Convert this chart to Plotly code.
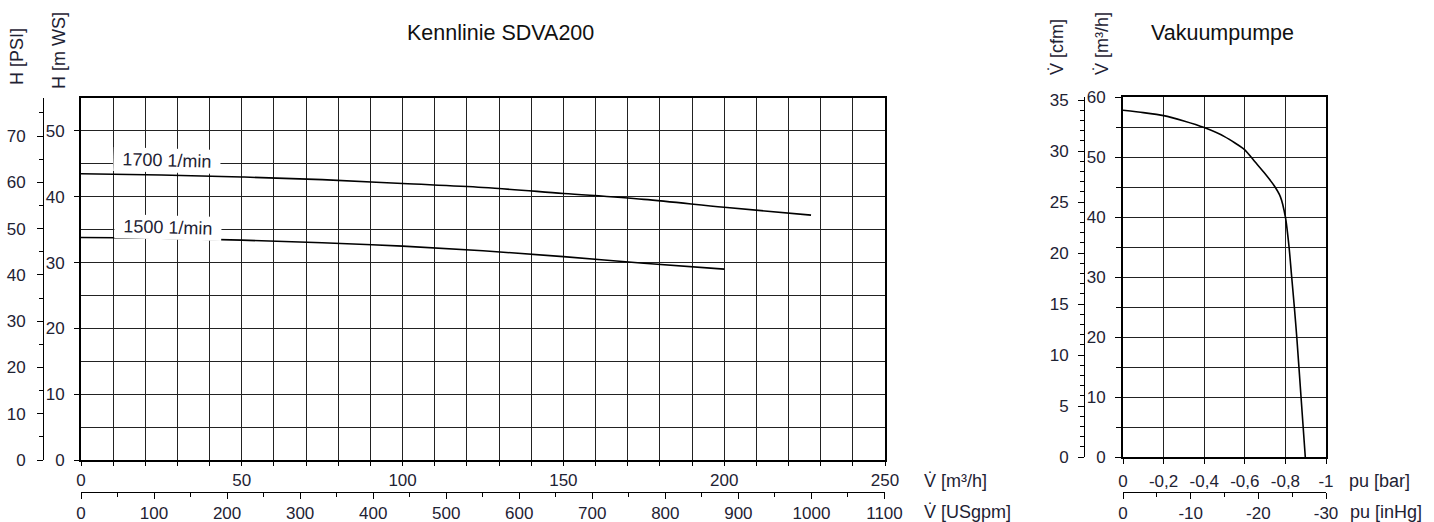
import plotly.graph_objects as go

# ---------------- data ----------------
# main pump curves: flow [m3/h] vs head [m WS]
q_1700 = [0, 25, 50, 75, 100, 125, 150, 175, 200, 227]
h_1700 = [43.5, 43.3, 43.0, 42.6, 42.0, 41.4, 40.5, 39.6, 38.4, 37.2]
q_1500 = [0, 25, 50, 75, 100, 125, 150, 175, 200]
h_1500 = [33.8, 33.7, 33.4, 33.0, 32.5, 31.8, 30.9, 29.9, 29.0]

# vacuum pump: pressure [bar] vs flow [m3/h]
p_vac = [0, -0.1, -0.2, -0.3, -0.4, -0.5, -0.6, -0.65, -0.7, -0.745, -0.775,
         -0.8, -0.818, -0.831, -0.844, -0.856, -0.877, -0.898]
v_vac = [57.8, 57.4, 56.9, 56.0, 54.9, 53.4, 51.2, 49.2, 47.2, 45.2, 43.4,
         40.0, 35.0, 30.0, 25.0, 20.0, 10.0, 0.0]

bar_ticks = [0, -0.2, -0.4, -0.6, -0.8, -1]
bar_labels = ["0", "-0,2", "-0,4", "-0,6", "-0,8", "-1"]
inhg_ticks = [0, -10, -20, -30]
inhg_labels = ["0", "-10", "-20", "-30"]

GPM = 4.402868   # US gpm per m3/h
PSI = 1.42233    # psi per m water
CFM = 0.588578   # cfm per m3/h

W, H = 1434, 522
def px(x): return x / W
def py(y): return (H - y) / H

FAM = "Liberation Sans, Arial, sans-serif"
FONT = dict(family=FAM, size=17, color="#1e2233")
LFONT = dict(family=FAM, size=18, color="#1e2233")
GRID = "#222222"

fig = go.Figure()
curve = dict(color="black", width=1.6, shape="spline", smoothing=1.0)
fig.add_trace(go.Scatter(x=q_1700, y=h_1700, mode="lines", line=curve,
                         xaxis="x", yaxis="y", hoverinfo="skip"))
fig.add_trace(go.Scatter(x=q_1500, y=h_1500, mode="lines", line=curve,
                         xaxis="x", yaxis="y", hoverinfo="skip"))
# secondary unit axes (invisible carriers)
fig.add_trace(go.Scatter(x=[q * GPM for q in q_1700], y=[h * PSI for h in h_1700],
                         mode="lines", line=dict(color="rgba(0,0,0,0)"),
                         xaxis="x2", yaxis="y2", hoverinfo="skip"))
fig.add_trace(go.Scatter(x=p_vac, y=v_vac, mode="lines",
                         line=dict(color="black", width=1.6, shape="spline", smoothing=0.6),
                         xaxis="x3", yaxis="y3", hoverinfo="skip"))
fig.add_trace(go.Scatter(x=[p * 30 for p in p_vac], y=[v * CFM for v in v_vac],
                         mode="lines", line=dict(color="rgba(0,0,0,0)"),
                         xaxis="x4", yaxis="y4", hoverinfo="skip"))

main_x = [px(81), px(885)]
main_y = [py(460), py(98)]
vac_x = [px(1123), px(1326)]
vac_y = [py(457), py(97)]

frame = dict(showline=True, linecolor="black", linewidth=2, mirror=True,
             zeroline=False, tickfont=FONT, tickcolor="black", tickwidth=1,
             gridcolor=GRID, gridwidth=1, showgrid=True, automargin=False)
sec = dict(showline=True, linecolor="black", linewidth=1, zeroline=False,
           showgrid=False, tickfont=FONT, tickcolor="black", tickwidth=1,
           anchor="free", automargin=False)

fig.update_layout(
    width=W, height=H, autosize=False,
    margin=dict(l=0, r=0, t=0, b=0, autoexpand=False),
    paper_bgcolor="white", plot_bgcolor="white",
    showlegend=False, font=FONT,
    xaxis=dict(domain=main_x, range=[0, 250], anchor="y", tick0=0, dtick=50,
               ticks="outside", ticklen=4, ticklabelstandoff=0,
               minor=dict(dtick=10, showgrid=True, gridcolor=GRID, gridwidth=1,
                          ticks="outside", ticklen=4, tickcolor="black"),
               **frame),
    yaxis=dict(domain=main_y, range=[0, 55], anchor="x", tick0=0, dtick=10,
               ticks="outside", ticklen=5, ticklabelstandoff=6,
               minor=dict(dtick=5, showgrid=True, gridcolor=GRID, gridwidth=1),
               **frame),
    xaxis2=dict(overlaying="x", position=py(492), side="bottom",
                range=[0, 250 * GPM], tick0=0, dtick=100, ticks="outside", ticklen=6,
                ticklabelstandoff=0,
                minor=dict(dtick=50, ticks="outside", ticklen=4, tickcolor="black"),
                **sec),
    yaxis2=dict(overlaying="y", position=px(43), side="left",
                range=[0, 55 * PSI], tick0=0, dtick=10, ticks="outside", ticklen=6,
                ticklabelstandoff=8,
                minor=dict(dtick=5, ticks="outside", ticklen=4, tickcolor="black"),
                **sec),
    xaxis3=dict(domain=vac_x, range=[0, -1], anchor="y3", tickmode="array",
                tickvals=bar_ticks, ticktext=bar_labels,
                ticks="outside", ticklen=5, ticklabelstandoff=3, **frame),
    yaxis3=dict(domain=vac_y, range=[0, 60], anchor="x3", tick0=0, dtick=10,
                ticks="outside", ticklen=6, ticklabelstandoff=6,
                minor=dict(dtick=5, showgrid=True, gridcolor=GRID, gridwidth=1,
                           ticks="outside", ticklen=5, tickcolor="black"),
                **frame),
    xaxis4=dict(overlaying="x3", position=py(492), side="bottom",
                range=[0, -30], tickmode="array", tickvals=inhg_ticks,
                ticktext=inhg_labels, ticks="outside", ticklen=6, ticklabelstandoff=0,
                minor=dict(tickmode="linear", tick0=0, dtick=5, ticks="outside",
                           ticklen=4, tickcolor="black"),
                **sec),
    yaxis4=dict(overlaying="y3", position=px(1084), side="left",
                range=[0, 60 * CFM], tick0=0, dtick=5, ticks="outside", ticklen=6,
                ticklabelstandoff=6,
                minor=dict(dtick=1, ticks="outside", ticklen=4, tickcolor="black"),
                **sec),
)

TFONT = dict(family=FAM, size=21.5, color="#111111")
ann = []
ann.append(dict(text="Kennlinie SDVA200", x=px(500), y=py(33), xref="paper", yref="paper",
                showarrow=False, font=TFONT, xanchor="center", yanchor="middle"))
ann.append(dict(text="Vakuumpumpe", x=px(1222), y=py(33), xref="paper", yref="paper",
                showarrow=False, font=TFONT, xanchor="center", yanchor="middle"))
for txt, x, y in [("H [PSI]", 17, 57), ("H [m WS]", 59, 51),
                  ("V\u0307 [cfm]", 1057, 47), ("V\u0307 [m\u00b3/h]", 1102, 44)]:
    ann.append(dict(text=txt, x=px(x), y=py(y), xref="paper", yref="paper",
                    showarrow=False, font=LFONT, textangle=-90,
                    xanchor="center", yanchor="middle"))
for txt, x, y in [("V\u0307 [m\u00b3/h]", 922, 481), ("V\u0307 [USgpm]", 922, 512),
                  ("pu [bar]", 1347, 481), ("pu [inHg]", 1348, 512)]:
    ann.append(dict(text=txt, x=px(x), y=py(y), xref="paper", yref="paper",
                    showarrow=False, font=LFONT, xanchor="left", yanchor="middle"))
# curve labels
for txt, qx, hy in [("1700 1/min", 26.8, 45.5), ("1500 1/min", 27.0, 35.4)]:
    ann.append(dict(text=txt, x=qx, y=hy, xref="x", yref="y", showarrow=False,
                    font=LFONT, bgcolor="white", textangle=1.5, width=104, height=21,
                    xanchor="center", yanchor="middle"))
fig.update_layout(annotations=ann)

fig.write_html("out.html", config={"displayModeBar": False},
               post_script="document.body.style.margin='0';document.body.style.overflow='hidden';")
